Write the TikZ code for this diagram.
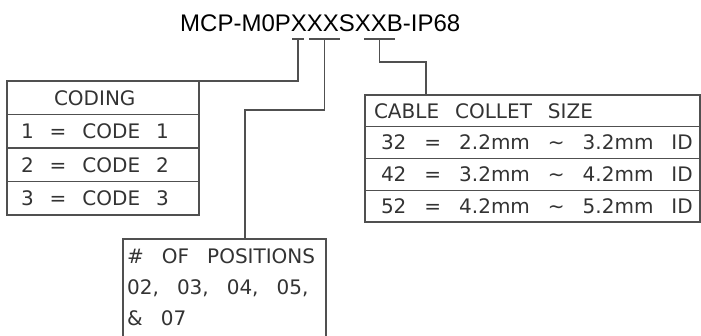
\documentclass[tikz,border=0pt]{standalone}
\usepackage{fontspec}
\usetikzlibrary{positioning}
\newfontfamily\titlefont{Liberation Sans}
\newfontfamily\cadfont{DejaVu Sans}
\newcommand\cellgap{\hspace{16pt}}
\newcommand\widegap{\hspace{18pt}}
\definecolor{linegray}{HTML}{505050}
\definecolor{textgray}{HTML}{333333}
\tikzset{
  line/.style={draw=linegray, line width=1.4pt},
  cell/.style={line, outer sep=0pt, inner ysep=0pt, align=left, text=textgray,
               text height=14.6pt, text depth=0pt,
               font=\cadfont\fontsize{20pt}{24pt}\selectfont},
  coderow/.style={cell, text width=164pt, inner xsep=14pt, minimum height=33.5pt},
  collethead/.style={cell, text width=317pt, inner xsep=9pt, minimum height=31.75pt},
  colletrow/.style={cell, text width=329pt, inner xsep=3pt, minimum height=31.75pt},
}
\begin{document}
\begin{tikzpicture}[x=1pt, y=-1pt]
\useasboundingbox (0,0) rectangle (701,336);

% part number and its fields
\node[anchor=base west, inner sep=0pt,
      font=\titlefont\fontsize{24pt}{28pt}\selectfont] (partno) at (180,31.7)
      {MCP-M0PXXXSXXB-IP68};
\foreach \a/\b/\n in {292/304/1, 309/340/2, 364/395/3} {
  \draw[line] (\a,39) -- (\b,39);
  \coordinate (sel\n) at ({(\a+\b)/2},39);
}

% coding
\node[coderow, anchor=north west] (code0) at (7,81) {\hspace*{33pt}CODING};
\node[coderow, below=0pt of code0] (code1) {1\cellgap=\cellgap CODE\cellgap1};
\node[coderow, below=0pt of code1] (code2) {2\cellgap=\cellgap CODE\cellgap2};
\node[coderow, below=0pt of code2] (code3) {3\cellgap=\cellgap CODE\cellgap3};

% cable collet size
\node[collethead, anchor=north west] (coll0) at (365,95)
      {CABLE\cellgap COLLET\cellgap SIZE};
\node[colletrow, below=0pt of coll0] (coll1)
      {\hspace*{13pt}32\widegap=\widegap2.2mm\widegap\textasciitilde\widegap3.2mm\widegap ID};
\node[colletrow, below=0pt of coll1] (coll2)
      {\hspace*{13pt}42\widegap=\widegap3.2mm\widegap\textasciitilde\widegap4.2mm\widegap ID};
\node[colletrow, below=0pt of coll2] (coll3)
      {\hspace*{13pt}52\widegap=\widegap4.2mm\widegap\textasciitilde\widegap5.2mm\widegap ID};

% positions
\node[line, anchor=north west, outer sep=0pt,
      minimum width=203pt, minimum height=110pt] (posbox) at (123,239) {};
\node[anchor=north west, inner sep=0pt, align=left, text=textgray,
      font=\cadfont\fontsize{20pt}{31pt}\selectfont] (postext) at (127,248.5)
      {\#\widegap OF\widegap POSITIONS\\02,\widegap03,\widegap04,\widegap05,\\\&\widegap07};

% leaders
\coordinate (bend2) at (245,110);
\coordinate (bend3) at (426,62);
\draw[line] (sel1) |- (code0.north east);
\draw[line] (sel2) |- (bend2) -- (bend2 |- posbox.north);
\draw[line] (sel3) |- (bend3) -- (bend3 |- coll0.north);
\end{tikzpicture}
\end{document}
